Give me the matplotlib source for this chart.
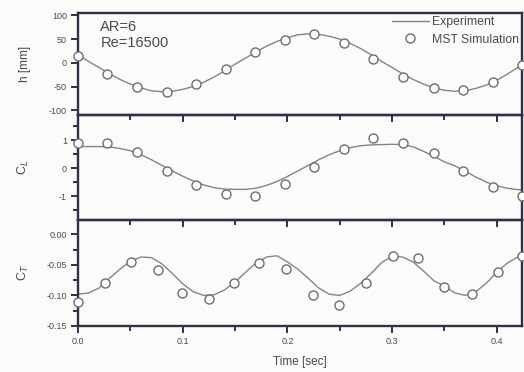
import matplotlib
matplotlib.use("Agg")
import matplotlib.pyplot as plt
from matplotlib.ticker import MultipleLocator

plt.rcParams['font.family'] = ['Liberation Sans', 'DejaVu Sans']

# Experiment curves, every 0.01 s
t_exp = [0.00, 0.01, 0.02, 0.03, 0.04, 0.05, 0.06, 0.07, 0.08, 0.09,
         0.10, 0.11, 0.12, 0.13, 0.14, 0.15, 0.16, 0.17, 0.18, 0.19,
         0.20, 0.21, 0.22, 0.23, 0.24, 0.25, 0.26, 0.27, 0.28, 0.29,
         0.30, 0.31, 0.32, 0.33, 0.34, 0.35, 0.36, 0.37, 0.38, 0.39,
         0.40, 0.41, 0.42, 0.425]
h_exp = [17, 3, -10, -23, -35, -45, -53, -59, -61, -60,
         -56, -50, -41, -30, -17, -3, 10, 23, 35, 45,
         53, 59, 61, 60, 56, 50, 41, 30, 17, 3,
         -10, -23, -35, -45, -53, -58, -60, -59, -54, -47,
         -37, -24, -10, -2]
cl_exp = [0.77, 0.77, 0.77, 0.76, 0.70, 0.62, 0.48, 0.30, 0.10, -0.10,
          -0.29, -0.46, -0.60, -0.70, -0.75, -0.76, -0.76, -0.72, -0.62, -0.48,
          -0.30, -0.10, 0.10, 0.30, 0.48, 0.62, 0.73, 0.80, 0.83, 0.84,
          0.85, 0.84, 0.76, 0.60, 0.42, 0.22, 0.08, -0.12, -0.32, -0.50,
          -0.63, -0.72, -0.77, -0.78]
ct_exp = [-0.098, -0.096, -0.088, -0.072, -0.057, -0.044, -0.037, -0.038, -0.048, -0.064,
          -0.081, -0.094, -0.100, -0.099, -0.091, -0.078, -0.062, -0.047, -0.037, -0.035,
          -0.045, -0.057, -0.072, -0.088, -0.098, -0.100, -0.093, -0.080, -0.064, -0.046,
          -0.036, -0.037, -0.045, -0.060, -0.076, -0.085, -0.096, -0.100, -0.094, -0.080,
          -0.062, -0.047, -0.037, -0.035]

# MST simulation points
t_h = [0.000, 0.028, 0.056, 0.085, 0.113, 0.141, 0.169, 0.198,
       0.225, 0.254, 0.282, 0.310, 0.340, 0.368, 0.396, 0.424]
h_sim = [14, -24, -52, -61, -45, -14, 22, 49,
         60, 41, 7, -31, -54, -57, -40, -5]
cl_sim = [0.91, 0.91, 0.56, -0.09, -0.60, -0.92, -0.99, -0.57,
          0.04, 0.68, 1.07, 0.91, 0.54, -0.12, -0.69, -1.01]
t_ct = [0.000, 0.026, 0.051, 0.076, 0.099, 0.125, 0.149, 0.173, 0.199,
        0.224, 0.249, 0.275, 0.301, 0.325, 0.350, 0.376, 0.401, 0.424]
ct_sim = [-0.111, -0.079, -0.045, -0.058, -0.096, -0.106, -0.079, -0.047, -0.056,
          -0.099, -0.115, -0.080, -0.035, -0.039, -0.086, -0.098, -0.062, -0.035]

frame = "#2e3148"
line_c = "#858585"
text_c = "#4a4a4a"

fig = plt.figure(figsize=(5.24, 3.72), dpi=100)
fig.patch.set_facecolor("#fbfbf9")

left, width = 0.149, 0.847
ax1 = fig.add_axes([left, 0.691, width, 0.274])
ax2 = fig.add_axes([left, 0.409, width, 0.282])
ax3 = fig.add_axes([left, 0.124, width, 0.285])

marker_kw = dict(linestyle="none", marker="o", markersize=6.5, markerfacecolor="white",
                 markeredgecolor="#6e6e6e", markeredgewidth=1.0, clip_on=False, zorder=3)

ax1.plot(t_exp, h_exp, color=line_c, lw=1.0, label="Experiment")
ax1.plot(t_h, h_sim, label="MST Simulation", **marker_kw)
ax2.plot(t_exp, cl_exp, color=line_c, lw=1.0)
ax2.plot(t_h, cl_sim, **marker_kw)
ax3.plot(t_exp, ct_exp, color=line_c, lw=1.0)
ax3.plot(t_ct, ct_sim, **marker_kw)

ax1.set_ylim(-110, 105)
ax1.yaxis.set_major_locator(MultipleLocator(50))
ax2.set_ylim(-1.85, 1.9)
ax2.yaxis.set_major_locator(MultipleLocator(1))
ax2.yaxis.set_minor_locator(MultipleLocator(0.5))
ax3.set_ylim(-0.15, 0.024)
ax3.yaxis.set_major_locator(MultipleLocator(0.05))
ax3.yaxis.set_minor_locator(MultipleLocator(0.025))
ax3.yaxis.set_major_formatter(plt.FormatStrFormatter("%.2f"))
ax1.yaxis.set_major_formatter(plt.FormatStrFormatter("%d"))
ax2.yaxis.set_major_formatter(plt.FormatStrFormatter("%d"))

for ax in (ax1, ax2, ax3):
    ax.set_facecolor("none")
    ax.set_xlim(0, 0.424)
    ax.xaxis.set_major_locator(MultipleLocator(0.1))
    ax.xaxis.set_minor_locator(MultipleLocator(0.05))
    for s in ax.spines.values():
        s.set_color(frame)
        s.set_linewidth(1.7)
    ax.tick_params(which="both", direction="out", color=frame, width=1.4,
                   labelsize=6.5, labelcolor=text_c, top=False, right=False, pad=3)
    ax.tick_params(which="major", length=5)
    ax.tick_params(which="minor", length=3.5)

ax1.tick_params(labelbottom=False)
ax2.tick_params(labelbottom=False)
ax3.xaxis.set_major_formatter(plt.FormatStrFormatter("%.1f"))

ax1.set_ylabel("h [mm]", fontsize=8.5, color=text_c)
ax2.set_ylabel("C$_L$", fontsize=9, color=text_c)
ax3.set_ylabel("C$_T$", fontsize=9, color=text_c)
for ax in (ax1, ax2, ax3):
    ax.yaxis.set_label_coords(-0.105, 0.5)
ax3.set_xlabel("Time [sec]", fontsize=8.5, color=text_c, labelpad=7)

ax1.text(0.05, 0.93, "AR=6\nRe=16500", transform=ax1.transAxes, fontsize=10.5,
         color=text_c, va="top", ha="left", linespacing=1.15)

leg = ax1.legend(loc="upper right", fontsize=8.8, frameon=False, handlelength=3.0,
                 borderaxespad=0.0, borderpad=0.25, labelspacing=0.45, handletextpad=0.25)
for txt in leg.get_texts():
    txt.set_color(text_c)

fig.savefig("out.png", dpi=100, facecolor=fig.get_facecolor())
